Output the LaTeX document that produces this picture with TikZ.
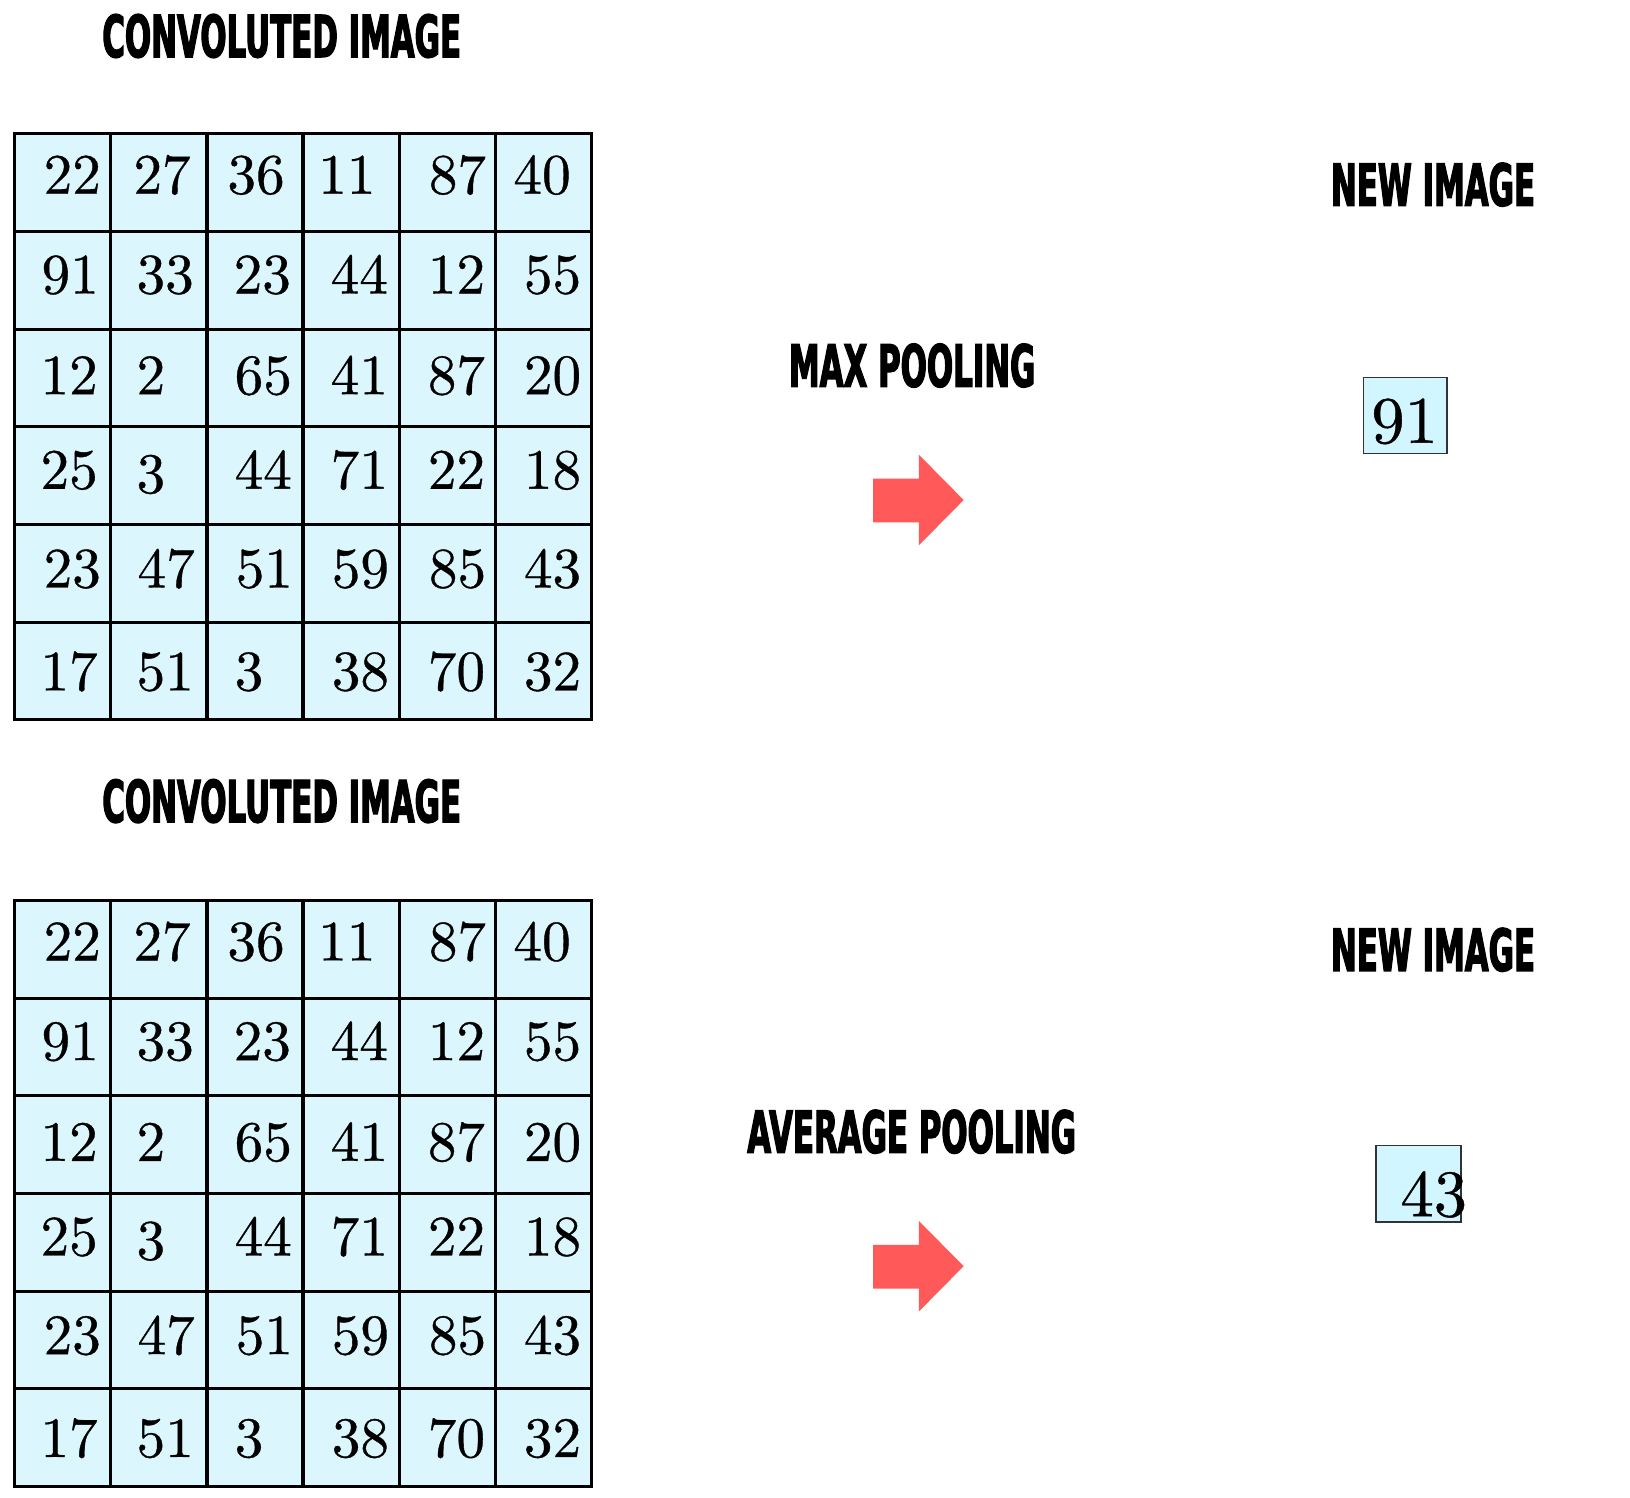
\documentclass[tikz,border=0pt]{standalone}
\usepackage{fontspec}
\newfontfamily\headfont{DejaVu Sans}[FakeStretch=0.53,FakeBold=2]
\newfontfamily\numfont{lmroman10-regular.otf}[FakeBold=0.6]
\definecolor{cellblue}{RGB}{219,247,253}
\definecolor{boxblue}{RGB}{210,246,255}
\definecolor{pointerred}{RGB}{255,89,89}
\tikzstyle{cell} = [draw,line width=3pt,fill=cellblue,rectangle,anchor=north west,inner sep=0,minimum width=92.4pt,minimum height=93.95pt]
\tikzstyle{num} = [anchor=base west,inner sep=0,font=\numfont\fontsize{55}{60}\selectfont]
\tikzstyle{heading} = [anchor=base,inner sep=0,font=\headfont\bfseries\fontsize{56}{60}\selectfont]
\tikzstyle{result} = [draw=black!80,line width=1.5pt,fill=boxblue,rectangle,anchor=north west,inner sep=0]
\tikzstyle{bignum} = [anchor=base west,inner sep=0,font=\numfont\fontsize{64}{68}\selectfont]
\tikzstyle{pointer} = [fill=pointerred]
\def \cw {92.4}
\def \ch {93.95}

\begin{document}
\begin{tikzpicture}[x=1pt,y=-1pt]
  \useasboundingbox (0,0) rectangle (1568,1441);
  % both convoluted images
  \foreach \g/\top in {mx/127.3, av/864.8} {
    \foreach \r/\vals in {
      1/{22/29/59,27/23/59,36/21/59,11/16/59,87/30/59,40/19/59},
      2/{91/27/61,33/26/61,23/27/61,44/28/61,12/29/61,55/29/61},
      3/{12/26/64,2/26/64,65/28/64,41/28/64,87/29/64,20/29/64},
      4/{25/26/61,3/26/65,44/28/61,71/28/61,22/29/61,18/29/61},
      5/{23/29/62,47/27/62,51/29/62,59/29/62,85/30/62,43/29/62},
      6/{17/26/67,51/26/67,3/28/67,38/29/67,70/29/67,32/29/67}} {
      \foreach \n/\dx/\by [count=\c] in \vals {
        \node[cell] (\g-\r-\c) at ({12.8+(\c-1)*\cw},{\top+(\r-1)*\ch}) {};
        \node[num,xshift=\dx pt,yshift=-\by pt] (\g-n-\r-\c) at (\g-\r-\c.north west) {\n};
      }
    }
  }
  \node[heading] (convtop) at (271,55) {CONVOLUTED IMAGE};
  \node[heading] (convbot) at (271,791) {CONVOLUTED IMAGE};
  \node[heading] (maxlabel) at (877.5,372) {MAX POOLING};
  \node[heading] (avglabel) at (877,1109) {AVERAGE POOLING};
  \node[heading] (newtop) at (1378.5,198) {NEW IMAGE};
  \node[heading] (newbot) at (1378.5,934) {NEW IMAGE};
  % pooling arrows
  \coordinate (maxtail) at (840,481);
  \coordinate (avgtail) at (840,1218);
  \fill[pointer] (maxtail) +(0,-20.5) -- +(44,-20.5) -- +(44,-43.5) -- +(87,0) -- +(44,43.5) -- +(44,21.5) -- +(0,21.5) -- cycle;
  \fill[pointer] (avgtail) +(0,-20.5) -- +(44,-20.5) -- +(44,-43.5) -- +(87,0) -- +(44,43.5) -- +(44,21.5) -- +(0,21.5) -- cycle;
  % new images
  \node[result,minimum width=80pt,minimum height=73pt] (maxbox) at (1311,362.5) {};
  \node[bignum,xshift=8pt,yshift=11pt] (maxval) at (maxbox.south west) {91};
  \node[result,minimum width=81.5pt,minimum height=73.5pt] (avgbox) at (1323,1101) {};
  \node[bignum,xshift=24pt,yshift=6pt] (avgval) at (avgbox.south west) {43};
\end{tikzpicture}
\end{document}
